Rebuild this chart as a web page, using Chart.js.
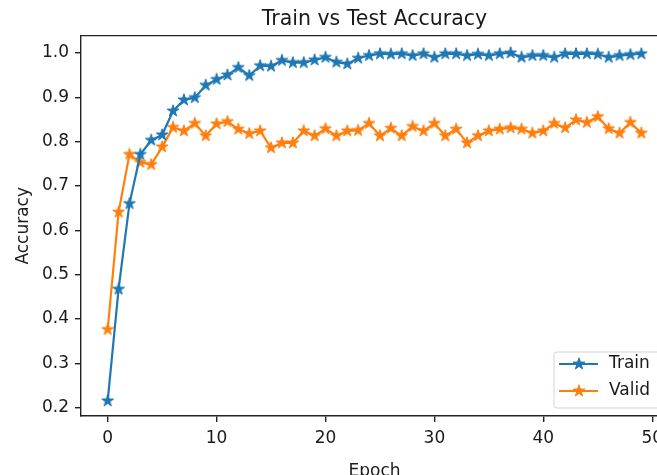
<!DOCTYPE html>
<html>
<head>
<meta charset="utf-8">
<title>Train vs Test Accuracy</title>
<script src="https://cdn.jsdelivr.net/npm/chart.js@4.4.0/dist/chart.umd.min.js"></script>
<style>
    html, body { margin: 0; padding: 0; background: #fff; overflow: hidden; }
    /* el área del gráfico sigue más allá del borde derecho, como en la original */
    #contenedor { width: 657px; height: 475px; overflow: hidden; }
    #miGrafica { display: block; }
</style>
</head>
<body>
<div id="contenedor"><canvas id="miGrafica" width="680" height="475"></canvas></div>
<script>
// Datos
const epocas = [0, 1, 2, 3, 4, 5, 6, 7, 8, 9, 10, 11, 12, 13, 14, 15, 16, 17, 18, 19,
    20, 21, 22, 23, 24, 25, 26, 27, 28, 29, 30, 31, 32, 33, 34, 35, 36, 37, 38, 39,
    40, 41, 42, 43, 44, 45, 46, 47, 48, 49];

const trainAcc = [0.215, 0.467, 0.660, 0.771, 0.803, 0.815, 0.869, 0.894, 0.899, 0.927,
    0.940, 0.950, 0.967, 0.949, 0.971, 0.970, 0.983, 0.978, 0.978, 0.984,
    0.990, 0.979, 0.975, 0.988, 0.994, 0.998, 0.997, 0.998, 0.994, 0.998,
    0.990, 0.998, 0.998, 0.994, 0.997, 0.994, 0.998, 1.000, 0.990, 0.994,
    0.994, 0.990, 0.998, 0.998, 0.998, 0.997, 0.990, 0.994, 0.996, 0.998];

const validAcc = [0.376, 0.641, 0.771, 0.753, 0.748, 0.788, 0.832, 0.824, 0.841, 0.813,
    0.840, 0.845, 0.828, 0.818, 0.824, 0.786, 0.797, 0.797, 0.824, 0.813,
    0.829, 0.813, 0.824, 0.825, 0.841, 0.813, 0.830, 0.813, 0.834, 0.824,
    0.841, 0.813, 0.828, 0.797, 0.813, 0.824, 0.828, 0.831, 0.828, 0.819,
    0.824, 0.841, 0.831, 0.849, 0.843, 0.856, 0.829, 0.819, 0.843, 0.819];

const nombresSeries = ['Train', 'Valid'];
const colores = ['#1f77b4', '#ff7f0e'];
const ticksX = [0, 10, 20, 30, 40, 50];
const ticksY = [0.2, 0.3, 0.4, 0.5, 0.6, 0.7, 0.8, 0.9, 1.0];

const fuente = 'DejaVu Sans';
const colorTexto = '#1a1a1a';

// Estrella rellena tipo marcador '*' de matplotlib
function crearEstrella(color) {
    const c = document.createElement('canvas');
    c.width = 14;
    c.height = 14;
    const g = c.getContext('2d');
    const rExt = 6.2, rInt = 6.2 * 0.382;
    g.beginPath();
    for (let i = 0; i < 10; i++) {
        const r = i % 2 === 0 ? rExt : rInt;
        const ang = -Math.PI / 2 + i * Math.PI / 5;
        const px = 7 + r * Math.cos(ang);
        const py = 7 + r * Math.sin(ang);
        if (i === 0) g.moveTo(px, py); else g.lineTo(px, py);
    }
    g.closePath();
    g.fillStyle = color;
    g.fill();
    g.strokeStyle = color;
    g.lineWidth = 1;
    g.stroke();
    return c;
}

const estrellas = colores.map(crearEstrella);

// Marco superior y derecho del área del gráfico
const marco = {
    id: 'marco',
    afterDraw(chart) {
        const { ctx, chartArea: a } = chart;
        ctx.save();
        ctx.strokeStyle = '#222';
        ctx.lineWidth = 1.4;
        ctx.beginPath();
        ctx.moveTo(a.left, a.top);
        ctx.lineTo(a.right, a.top);
        ctx.lineTo(a.right, a.bottom);
        ctx.stroke();
        ctx.restore();
    }
};

// Leyenda dentro del área, abajo a la derecha (queda cortada por el borde)
const leyenda = {
    id: 'leyenda',
    afterDraw(chart) {
        const { ctx, chartArea: a } = chart;
        const w = 106, h = 56;
        const x = a.right - 8 - w;
        const y = a.bottom - 8 - h;
        ctx.save();
        ctx.beginPath();
        ctx.roundRect(x, y, w, h, 3);
        ctx.fillStyle = 'rgba(255,255,255,0.8)';
        ctx.fill();
        ctx.strokeStyle = '#d4d4d4';
        ctx.lineWidth = 1;
        ctx.stroke();

        chart.data.datasets.forEach((ds, i) => {
            const cy = y + 12 + i * 27;
            ctx.strokeStyle = ds.borderColor;
            ctx.lineWidth = 2.2;
            ctx.beginPath();
            ctx.moveTo(x + 5, cy);
            ctx.lineTo(x + 44, cy);
            ctx.stroke();
            const est = ds.pointStyle;
            ctx.drawImage(est, x + 25 - est.width / 2, cy - est.height / 2);
            ctx.fillStyle = colorTexto;
            ctx.font = '17px "' + fuente + '"';
            ctx.textAlign = 'left';
            ctx.textBaseline = 'middle';
            ctx.fillText(ds.label, x + 55, cy);
        });
        ctx.restore();
    }
};

const ctx = document.getElementById('miGrafica').getContext('2d');

const datasets = nombresSeries.map((nombre, i) => ({
    label: nombre,
    data: epocas.map((e, j) => ({ x: e, y: (i === 0 ? trainAcc : validAcc)[j] })),
    borderColor: colores[i],
    backgroundColor: colores[i],
    borderWidth: 2.2,
    tension: 0,
    pointStyle: estrellas[i],
    pointRadius: 6,
    fill: false,
}));

window.myChart = new Chart(ctx, {
    type: 'line',
    data: { datasets: datasets },
    options: {
        responsive: false,
        animation: false,
        devicePixelRatio: 1,
        layout: { autoPadding: false, padding: { left: 0, right: 12, top: 0, bottom: 0 } },
        plugins: {
            legend: { display: false },
            tooltip: { enabled: false },
            title: {
                display: true,
                text: 'Train vs Test Accuracy',
                fullSize: false,
                color: colorTexto,
                font: { family: fuente, size: 20.5, weight: 'normal', lineHeight: 1.2 },
                padding: { top: 7, bottom: 4 },
            },
        },
        scales: {
            x: {
                type: 'linear',
                min: -2.45,
                max: 51.45,
                afterBuildTicks: (scale) => { scale.ticks = ticksX.map(v => ({ value: v })); },
                afterFit: (scale) => { scale.height = 59; },
                grid: { drawOnChartArea: false, drawTicks: true, tickLength: 6, lineWidth: 1.4, color: '#222' },
                border: { display: true, color: '#222', width: 1.4 },
                ticks: {
                    color: colorTexto,
                    padding: 6,
                    maxRotation: 0,
                    autoSkip: false,
                    font: { family: fuente, size: 17, lineHeight: 1.2 },
                    callback: (v) => String(v),
                },
                title: {
                    display: true,
                    text: 'Epoch',
                    color: colorTexto,
                    font: { family: fuente, size: 17, lineHeight: 1 },
                    padding: { top: 0, bottom: -5 },
                },
            },
            y: {
                type: 'linear',
                min: 0.181,
                max: 1.039,
                afterBuildTicks: (scale) => { scale.ticks = ticksY.map(v => ({ value: v })); },
                afterFit: (scale) => { scale.width = 81; },
                grid: { drawOnChartArea: false, drawTicks: true, tickLength: 6, lineWidth: 1.4, color: '#222' },
                border: { display: true, color: '#222', width: 1.4 },
                ticks: {
                    color: colorTexto,
                    padding: 6,
                    autoSkip: false,
                    font: { family: fuente, size: 17, lineHeight: 1.2 },
                    callback: (v) => v.toFixed(1),
                },
                title: {
                    display: true,
                    text: 'Accuracy',
                    color: colorTexto,
                    font: { family: fuente, size: 17, lineHeight: 1.2 },
                    padding: { top: 13, bottom: 0 },
                },
            },
        },
    },
    plugins: [marco, leyenda],
});
</script>
</body>
</html>
